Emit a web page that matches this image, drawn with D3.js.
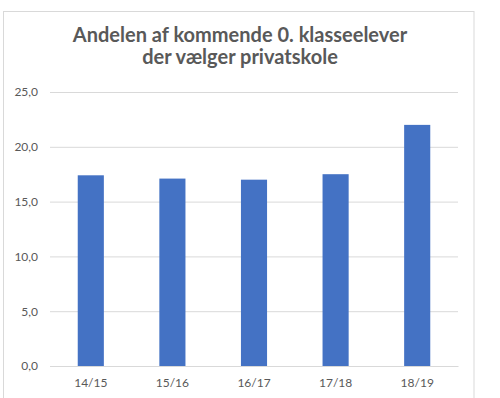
<!DOCTYPE html>
<html>
<head>
<meta charset="utf-8">
<script src="https://cdn.jsdelivr.net/npm/d3@7"></script>
<style>
  body { margin: 0; background: #fff; }
  text { font-family: Lato, "Open Sans", sans-serif; }
</style>
</head>
<body>
<div id="chart"></div>
<script>
// Andelen af kommende 0. klasseelever der vælger privatskole

var categories = ["14/15", "15/16", "16/17", "17/18", "18/19"];
var values = [17.4, 17.1, 17.0, 17.5, 22.0];
var yTicks = [0, 5, 10, 15, 20, 25];
var titleLines = ["Andelen af kommende 0. klasseelever", "der vælger privatskole"];

var W = 500, H = 398;
var margin = { left: 50, right: 42, top: 92, bottom: 32 };
var width = W - margin.left - margin.right;
var height = H - margin.top - margin.bottom;

var svg = d3.select("#chart")
  .append("svg")
  .attr("width", W)
  .attr("height", H);

// chart frame (bottom edge falls outside the picture)
svg.append("rect")
  .attr("x", 3.5)
  .attr("y", 11.5)
  .attr("width", 470.5)
  .attr("height", 400)
  .attr("fill", "#fff")
  .attr("stroke", "#d9d9d9")
  .attr("stroke-width", 1);

// title
svg.append("text")
  .attr("x", 240)
  .attr("y", 42)
  .attr("text-anchor", "middle")
  .attr("font-size", "20px")
  .attr("font-weight", "bold")
  .attr("fill", "#595959")
  .selectAll("tspan")
  .data(titleLines)
  .enter()
  .append("tspan")
  .attr("x", 240)
  .attr("dy", (d, i) => i === 0 ? 0 : 22)
  .text(d => d);

var g = svg.append("g")
  .attr("transform", "translate(" + margin.left + "," + margin.top + ")");

// Scales
var x = d3.scaleBand()
  .domain(categories)
  .range([0, width])
  .paddingInner(0.68)
  .paddingOuter(0.34);

var y = d3.scaleLinear()
  .domain([0, 25])
  .range([height, 0]);

var fmt = v => d3.format(".1f")(v).replace(".", ",");

// gridlines
g.append("g")
  .attr("class", "grid")
  .call(d3.axisLeft(y).tickValues(yTicks).tickSize(-width).tickFormat(""))
  .call(s => s.select(".domain").remove())
  .call(s => s.selectAll("line").attr("stroke", "#d9d9d9"));

// y labels
g.append("g")
  .attr("class", "y axis")
  .call(d3.axisLeft(y).tickValues(yTicks).tickSize(0).tickPadding(12).tickFormat(fmt))
  .call(s => s.select(".domain").remove())
  .call(s => s.selectAll("text")
    .attr("font-size", "12px")
    .attr("fill", "#595959")
    .style("font-family", "Lato, sans-serif"));

// bars
g.selectAll(".bar")
  .data(values)
  .enter()
  .append("rect")
  .attr("class", "bar")
  .attr("x", (d, i) => x(categories[i]))
  .attr("width", x.bandwidth())
  .attr("y", d => y(d))
  .attr("height", d => height - y(d))
  .attr("fill", "#4472c4");

// x axis
g.append("g")
  .attr("class", "x axis")
  .attr("transform", "translate(0," + height + ")")
  .call(d3.axisBottom(x).tickSize(0).tickPadding(12))
  .call(s => s.select(".domain").attr("stroke", "#d9d9d9"))
  .call(s => s.selectAll("text")
    .attr("font-size", "12px")
    .attr("fill", "#595959")
    .style("font-family", "Lato, sans-serif"));
</script>
</body>
</html>
